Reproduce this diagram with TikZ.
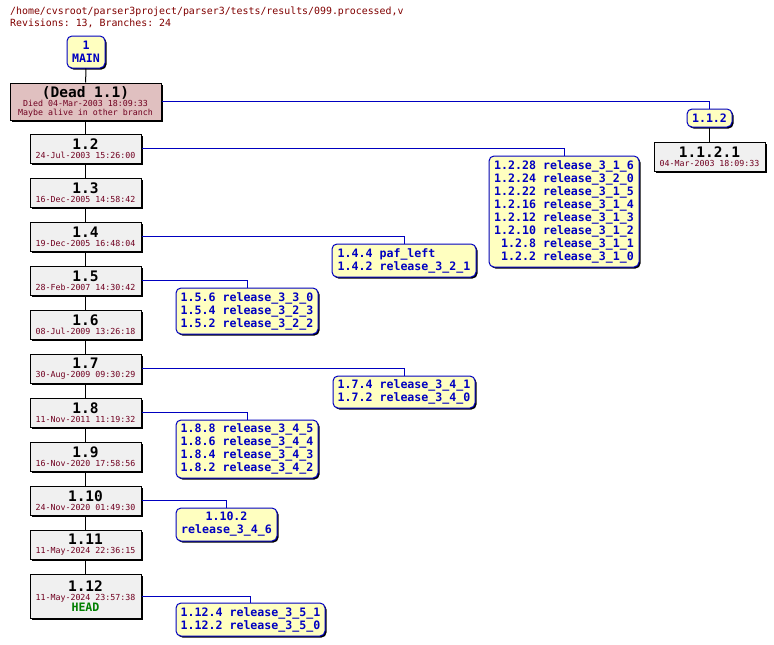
\documentclass[tikz,border=0pt]{standalone}
\usepackage{fontspec}
\setmonofont{DejaVu Sans Mono}
\usetikzlibrary{shadows}

\definecolor{revfill}{HTML}{F0F0F0}
\definecolor{deadfill}{HTML}{E0C0C0}
\definecolor{tagfill}{HTML}{FFFFC0}
\definecolor{tagblue}{HTML}{0000C0}
\definecolor{datered}{HTML}{700020}
\definecolor{titlered}{HTML}{800000}
\definecolor{headgreen}{HTML}{008000}

\newcommand{\revfont}{\fontsize{14.5}{15}\selectfont}
\newcommand{\datefont}{\fontsize{8.3}{9}\selectfont}
\newcommand{\tagfont}{\fontsize{11.6}{13}\selectfont\bfseries}
\newcommand{\revnum}[1]{{\color{black}\revfont\bfseries #1}}

\tikzset{
  shade box/.style={drop shadow={shadow xshift=1.5pt, shadow yshift=-1.5pt, opacity=1, fill=black}},
  revbox/.style={draw, fill=revfill, line width=1pt, minimum width=111pt, minimum height=29pt,
    inner sep=0pt, align=center, font=\ttfamily\datefont, text=datered, shade box},
  tagbox/.style={draw=tagblue, fill=tagfill, line width=1pt, rounded corners=5pt, inner sep=0pt,
    align=left, font=\ttfamily\tagfont, text=tagblue, shade box},
  trunk/.style={line width=1pt},
  branchline/.style={draw=tagblue, line width=1pt},
}

\begin{document}
\begin{tikzpicture}[x=1pt, y=-1pt]
    \useasboundingbox (0,0) rectangle (774,645);

    %header
    \node[anchor=base west, inner sep=0pt, font=\ttfamily\fontsize{9.9}{11}\selectfont, text=titlered]
      (title) at (10,14) {/home/cvsroot/parser3project/parser3/tests/results/099.processed,v};
    \node[anchor=base west, inner sep=0pt, font=\ttfamily\fontsize{9.9}{11}\selectfont, text=titlered]
      (stats) at (10,27) {Revisions: 13, Branches: 24};

    %trunk
    \node[tagbox, align=center, minimum width=38pt, minimum height=32pt] (main) at (86,52) {1\\MAIN};
    \node[revbox, fill=deadfill, minimum width=151pt, minimum height=37pt] (dead) at (85.5,101.5)
      {\revnum{(Dead 1.1)}\\Died 04-Mar-2003 18:09:33\\Maybe alive in other branch};
    \foreach \i/\date in {2/24-Jul-2003 15:26:00, 3/16-Dec-2005 14:58:42, 4/19-Dec-2005 16:48:04,
        5/28-Feb-2007 14:30:42, 6/08-Jul-2009 13:26:18, 7/30-Aug-2009 09:30:29,
        8/11-Nov-2011 11:19:32, 9/16-Nov-2020 17:58:56, 10/24-Nov-2020 01:49:30,
        11/11-May-2024 22:36:15}
      \node[revbox] (r\i) at (85.5,{148.5+44*(\i-2)}) {\revnum{1.\i}\\\date};
    \node[revbox, minimum height=44pt] (r12) at (85.5,596)
      {\revnum{1.12}\\11-May-2024 23:57:38\\{\color{headgreen}\tagfont HEAD}};

    \draw[trunk] (main) -- (dead);
    \draw[trunk] (dead) -- (r2);
    \foreach \i in {2,...,11}{
      \pgfmathtruncatemacro\j{\i+1}
      \draw[trunk] (r\i) -- (r\j);
    }

    %branch 1.1.2
    \node[tagbox, minimum width=45pt, minimum height=18pt] (b1) at (709.5,118) {1.1.2};
    \node[revbox] (r1121) at (709.5,157) {\revnum{1.1.2.1}\\04-Mar-2003 18:09:33};
    \draw[branchline] (dead.east) -| (b1.north);
    \draw[trunk] (b1) -- (r1121);

    %tags
    \node[tagbox, align=right, minimum width=150pt, minimum height=111pt] (b2) at (564,211.5)
      {1.2.28 release\_3\_1\_6\\1.2.24 release\_3\_2\_0\\1.2.22 release\_3\_1\_5\\1.2.16 release\_3\_1\_4\\
       1.2.12 release\_3\_1\_3\\1.2.10 release\_3\_1\_2\\1.2.8 release\_3\_1\_1\\1.2.2 release\_3\_1\_0};
    \node[tagbox, minimum width=144pt, minimum height=33pt] (b4) at (404,260.5)
      {1.4.4 paf\_left\\1.4.2 release\_3\_2\_1};
    \node[tagbox, minimum width=142pt, minimum height=46pt] (b5) at (247,311)
      {1.5.6 release\_3\_3\_0\\1.5.4 release\_3\_2\_3\\1.5.2 release\_3\_2\_2};
    \node[tagbox, minimum width=142pt, minimum height=32pt] (b7) at (404,392)
      {1.7.4 release\_3\_4\_1\\1.7.2 release\_3\_4\_0};
    \node[tagbox, minimum width=142pt, minimum height=58pt] (b8) at (247,449)
      {1.8.8 release\_3\_4\_5\\1.8.6 release\_3\_4\_4\\1.8.4 release\_3\_4\_3\\1.8.2 release\_3\_4\_2};
    \node[tagbox, align=center, minimum width=101pt, minimum height=33pt] (b10) at (226.5,524.5)
      {1.10.2\\release\_3\_4\_6};
    \node[tagbox, minimum width=149pt, minimum height=33pt] (b12) at (250.5,619.5)
      {1.12.4 release\_3\_5\_1\\1.12.2 release\_3\_5\_0};

    \foreach \i in {2,4,5,7,8,10,12}
      \draw[branchline] (r\i.east) -| (b\i.north);

\end{tikzpicture}
\end{document}
